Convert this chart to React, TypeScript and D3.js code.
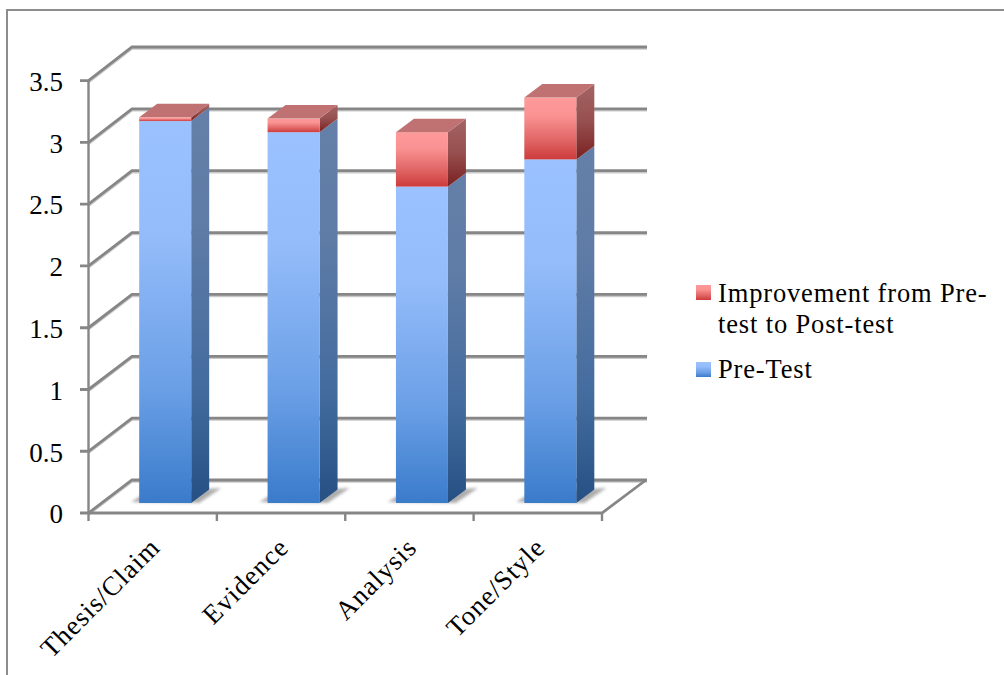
import React from "react";
import * as d3 from "d3";

const categories = ["Thesis/Claim", "Evidence", "Analysis", "Tone/Style"];
const preTest = [3.09, 3.0, 2.56, 2.78];
const improvement = [0.03, 0.11, 0.44, 0.5];
const yTicks = [0, 0.5, 1, 1.5, 2, 2.5, 3, 3.5];
const yLabels = ["0", "0.5", "1", "1.5", "2", "2.5", "3", "3.5"];
const legendLines = [["Improvement from Pre-", "test to Post-test"], ["Pre-Test"]];

const FONT = "'Liberation Serif', serif";
const GRID = "#868686";
const frontY = d3.scaleLinear().domain([0, 3.5]).range([513, 80.7]);
const backY = d3.scaleLinear().domain([0, 3.5]).range([480, 47]);
const barY = d3.scaleLinear().domain([0, 3.5]).range([503, 70.4]);
const x = d3.scaleBand().domain(categories).range([88.5, 602]);
const barW = 52;
const barShift = 12.5;
const depthX = 18;
const depthY = 13.5;
const poly = d3.line();

function Grad({ id, stops }: { id: string; stops: [number, string][] }) {
  return (
    <linearGradient id={id} x1="0" y1="0" x2="0" y2="1">
      {stops.map(([o, c]) => <stop key={o} offset={o} stopColor={c} />)}
    </linearGradient>
  );
}

export default function App() {
  const bw = x.bandwidth();
  return (
    <svg width={1004} height={675} style={{ position: "absolute", left: 0, top: 0, background: "#fff" }}>
      <defs>
        <Grad id="blueF" stops={[[0, "#9bc2ff"], [0.3, "#94bcfa"], [0.7, "#6a9fe6"], [1, "#3a7bca"]]} />
        <Grad id="blueS" stops={[[0, "#6480a8"], [0.3, "#5f7ca6"], [0.7, "#446c9f"], [1, "#265084"]]} />
        <Grad id="redF" stops={[[0, "#ff9a9a"], [0.3, "#fa9292"], [0.7, "#e06464"], [1, "#cc3b3b"]]} />
        <Grad id="redS" stops={[[0, "#a46464"], [0.5, "#974f4f"], [1, "#7a2020"]]} />
        <filter id="blur" x="-30%" y="-50%" width="160%" height="200%"><feGaussianBlur stdDeviation="1.8" /></filter>
      </defs>

      <path d="M7,675 V10 H1004" fill="none" stroke="#8c8c8c" strokeWidth={2} />

      <g fill="none" strokeLinejoin="miter">
        {yTicks.map((t) => (
          <path key={`s${t}`} transform="translate(0,1.5)" d={poly([[88.5, frontY(t)], [132, backY(t)], [647, backY(t)]])!} stroke="#c9c9c9" strokeWidth={2.4} />
        ))}
        {yTicks.map((t) => (
          <path key={t} d={poly([[80, frontY(t)], [88.5, frontY(t)], [132, backY(t)], [647, backY(t)]])!} stroke={GRID} strokeWidth={2.8} />
        ))}
        <path d={poly([[88.5, frontY(3.5)], [88.5, 521]])!} stroke={GRID} strokeWidth={2.4} />
        <path d={poly([[88.5, 513], [602, 513], [646, 480]])!} stroke={GRID} strokeWidth={2.8} />
        {categories.map((c) => {
          const tx = x(c)! + bw;
          return <path key={c} d={poly([[tx, 513], [tx, 521]])!} stroke={GRID} strokeWidth={2.4} />;
        })}
      </g>

      {categories.map((c, i) => {
        const x0 = x(c)! + (bw - barW) / 2 + barShift;
        const x1 = x0 + barW;
        const y0 = barY(0);
        const yP = barY(preTest[i]);
        const yT = barY(preTest[i] + improvement[i]);
        return (
          <g key={c}>
            <path d={poly([[x0 - 8, y0 - 1], [x0 + 6, y0 - 10], [x1 + depthX + 12, y0 - 15], [x1 + 8, y0]])! + "Z"} fill="#777" opacity={0.6} filter="url(#blur)" />
            <path d={poly([[x1, y0], [x1 + depthX, y0 - depthY], [x1 + depthX, yP - depthY], [x1, yP]])! + "Z"} fill="url(#blueS)" />
            <rect x={x0} y={yP} width={barW} height={y0 - yP} fill="url(#blueF)" />
            <path d={poly([[x1, yP], [x1 + depthX, yP - depthY], [x1 + depthX, yT - depthY], [x1, yT]])! + "Z"} fill="url(#redS)" />
            <rect x={x0} y={yT} width={barW} height={yP - yT} fill="url(#redF)" />
            <path d={poly([[x0, yT], [x0 + depthX, yT - depthY], [x1 + depthX, yT - depthY], [x1, yT]])! + "Z"} fill="#c07272" />
          </g>
        );
      })}

      <g fontFamily={FONT} fontSize={27} fill="#000">
        {yTicks.map((t, i) => (
          <text key={t} x={63} y={frontY(t)} dy="0.38em" textAnchor="end">{yLabels[i]}</text>
        ))}
        {categories.map((c) => {
          const cx = x(c)! + bw / 2 + 9;
          return <text key={c} transform={`translate(${cx},549) rotate(-45)`} textAnchor="end" letterSpacing={1}>{c}</text>;
        })}
      </g>

      <rect x={696} y={285} width={15} height={15} fill="url(#redF)" />
      <rect x={696} y={362} width={15} height={15} fill="url(#blueF)" />
      <g fontFamily={FONT} fontSize={26.5} fill="#000" letterSpacing={0.85}>
        {legendLines[0].map((l, i) => <text key={l} x={718} y={302 + i * 31}>{l}</text>)}
        <text x={718} y={378}>{legendLines[1][0]}</text>
      </g>
    </svg>
  );
}
